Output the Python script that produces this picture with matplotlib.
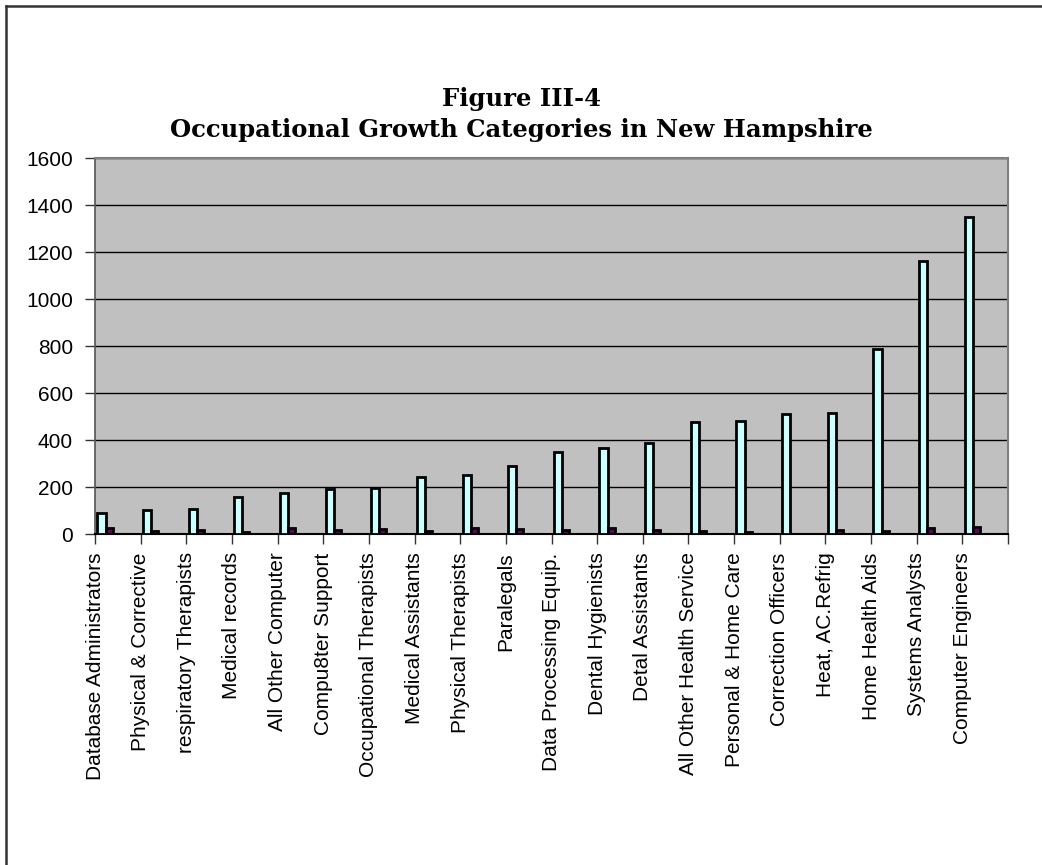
import matplotlib.pyplot as plt
from matplotlib.lines import Line2D
import numpy as np

# occupations, ordered by projected growth
categories = [
    "Database Administrators", "Physical & Corrective", "respiratory Therapists",
    "Medical records", "All Other Computer", "Compu8ter Support",
    "Occupational Therapists", "Medical Assistants", "Physical Therapists",
    "Paralegals", "Data Processing Equip.", "Dental Hygienists",
    "Detal Assistants", "All Other Health Service", "Personal & Home Care",
    "Correction Officers", "Heat, AC.Refrig", "Home Health Aids",
    "Systems Analysts", "Computer Engineers",
]
growth = [92, 103, 109, 157, 174, 194, 197, 244, 251, 292,
          352, 365, 387, 478, 481, 511, 515, 787, 1164, 1351]
second = [25, 15, 20, 11, 28, 18, 22, 14, 27, 21,
          17, 25, 17, 13, 10, 0, 17, 13, 27, 32]
yticks = [0, 200, 400, 600, 800, 1000, 1200, 1400, 1600]

plt.rcParams['font.family'] = ['Liberation Sans', 'DejaVu Sans']

fig = plt.figure(figsize=(10.42, 8.65), dpi=100)
ax = fig.add_axes([0.0912, 0.3823, 0.9674 - 0.0912, 0.8173 - 0.3823])

x = np.arange(len(categories))
w = 0.18
ax.bar(x + 0.05, growth, width=w, align='edge', color='#CCFFFF',
       edgecolor='black', linewidth=2, zorder=3)
ax.bar(x + 0.05 + w, second, width=w * 0.85, align='edge', color='#660066',
       edgecolor='black', linewidth=2, zorder=3)

ax.set_facecolor('#C0C0C0')
ax.set_xlim(0, len(categories))
ax.set_ylim(0, 1600)
ax.set_yticks(yticks)
ax.set_yticklabels([str(v) for v in yticks], fontsize=15)
ax.yaxis.grid(True, color='black', linewidth=1, zorder=1)
ax.set_axisbelow(True)

ax.set_xticks(np.arange(len(categories) + 1))
ax.set_xticklabels(categories + [""], rotation=90, fontsize=15,
                   ha='center', va='top')
ax.tick_params(axis='both', direction='out', length=7, width=1, color='#333333')
ax.tick_params(axis='y', pad=9)
ax.tick_params(axis='x', pad=6)

for side in ('top', 'right'):
    ax.spines[side].set_color('#808080')
    ax.spines[side].set_linewidth(1.5)
ax.spines['left'].set_color('#555555')
ax.spines['left'].set_linewidth(1.2)
ax.spines['bottom'].set_color('black')
ax.spines['bottom'].set_linewidth(1.5)

fig.text(0.5, 1 - 106 / 865, "Figure III-4", ha='center', va='baseline',
         fontsize=17.5, fontweight='bold', family=['DejaVu Serif'])
fig.text(0.5, 1 - 137 / 865, "Occupational Growth Categories in New Hampshire",
         ha='center', va='baseline', fontsize=17.5, fontweight='bold',
         family=['DejaVu Serif'])

# frame lines along the top and left edges
fig.add_artist(Line2D([6 / 1042, 6 / 1042], [0, 1 - 5.5 / 865],
                      transform=fig.transFigure, color='#333333', linewidth=1.8))
fig.add_artist(Line2D([6 / 1042, 1], [1 - 5.5 / 865, 1 - 5.5 / 865],
                      transform=fig.transFigure, color='#333333', linewidth=1.8))

fig.savefig("out.png", dpi=100)
